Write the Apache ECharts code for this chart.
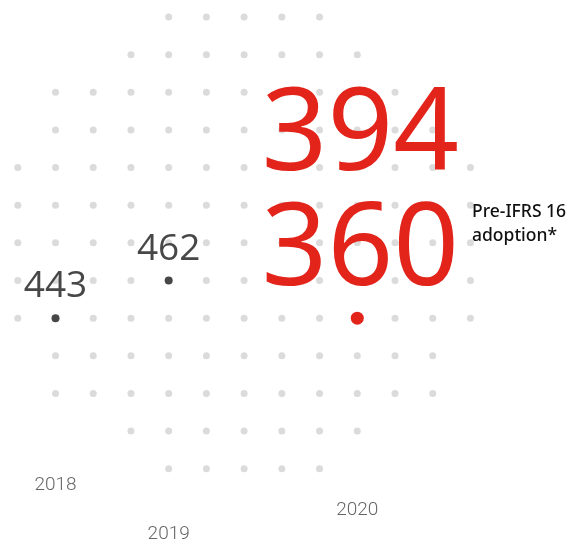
<!DOCTYPE html>
<html>
<head>
<meta charset="utf-8">
<script src="https://cdn.jsdelivr.net/npm/echarts@6/dist/echarts.min.js"></script>
<style>
  html, body { margin: 0; padding: 0; background: #fff; }
  #main { width: 571px; height: 544px; }
</style>
</head>
<body>
<div id="main"></div>
<script>
// data
var years = ['2018', '2019', '2020'];
var values = [443, 462, 394];
var preIfrs = [null, null, 360];
// position of each year's dot on the dot grid (column, row)
var dotCol = [1, 4, 9];
var dotRow = [8, 7, 8];
var yearRow = [12.45, 13.75, 13.1];

// decorative dot grid: first and last column of each row
var rowStart = [4, 3, 1, 1, 0, 0, 0, 0, 0, 1, 1, 3, 4];
var rowEnd = [8, 9, 10, 11, 12, 12, 12, 12, 12, 11, 11, 9, 8];

var gridDots = [];
for (var r = 0; r < rowStart.length; r++) {
  for (var c = rowStart[r]; c <= rowEnd[r]; c++) {
    gridDots.push([c, r]);
  }
}

var darkPoints = [];
var redPoints = [];
var yearPoints = [];
for (var i = 0; i < years.length; i++) {
  if (preIfrs[i] != null) {
    redPoints.push({ value: [dotCol[i], dotRow[i]], main: values[i], pre: preIfrs[i] });
  } else {
    darkPoints.push({ value: [dotCol[i], dotRow[i]], main: values[i] });
  }
  yearPoints.push({ value: [dotCol[i], yearRow[i]], name: years[i] });
}

var chart = echarts.init(document.getElementById('main'));
chart.setOption({
  animation: false,
  grid: {
    left: 17.8,
    top: 17,
    width: 37.72 * 14,
    height: 37.75 * 14
  },
  xAxis: {
    type: 'value', min: 0, max: 14,
    show: false
  },
  yAxis: {
    type: 'value', min: 0, max: 14, inverse: true,
    show: false
  },
  graphic: [{
    type: 'text',
    left: 472,
    top: 200,
    z: 10,
    style: {
      text: 'Pre-IFRS 16\nadoption*',
      font: '500 17.5px "Noto Sans"',
      lineHeight: 24,
      fill: '#111111'
    }
  }],
  series: [
    {
      // background grid
      type: 'scatter',
      z: 1,
      symbolSize: 7,
      silent: true,
      itemStyle: { color: '#dbdbdc', opacity: 1 },
      data: gridDots
    },
    {
      type: 'scatter',
      z: 2,
      symbolSize: 8,
      itemStyle: { color: '#474747', opacity: 1 },
      label: {
        show: true,
        position: 'top',
        distance: 9,
        fontFamily: 'Open Sans',
        fontSize: 37,
        color: '#474747',
        formatter: function (p) { return p.data.main; }
      },
      data: darkPoints
    },
    {
      type: 'scatter',
      z: 3,
      symbolSize: 13,
      itemStyle: { color: '#e3241b', opacity: 1 },
      label: {
        show: true,
        position: 'top',
        distance: 2,
        offset: [3, 0],
        formatter: function (p) { return '{a|' + p.data.main + '}\n{a|' + p.data.pre + '}'; },
        rich: {
          a: {
            fontFamily: 'Noto Sans',
            fontSize: 115,
            lineHeight: 115,
            color: '#e3241b'
          }
        }
      },
      data: redPoints
    },
    {
      // year labels under the grid
      type: 'scatter',
      z: 2,
      symbolSize: 0,
      silent: true,
      itemStyle: { opacity: 1 },
      label: {
        show: true,
        position: 'inside',
        fontFamily: 'Roboto',
        fontWeight: 300,
        fontSize: 19,
        color: '#666666',
        formatter: '{b}'
      },
      data: yearPoints
    }
  ]
});
</script>
</body>
</html>
